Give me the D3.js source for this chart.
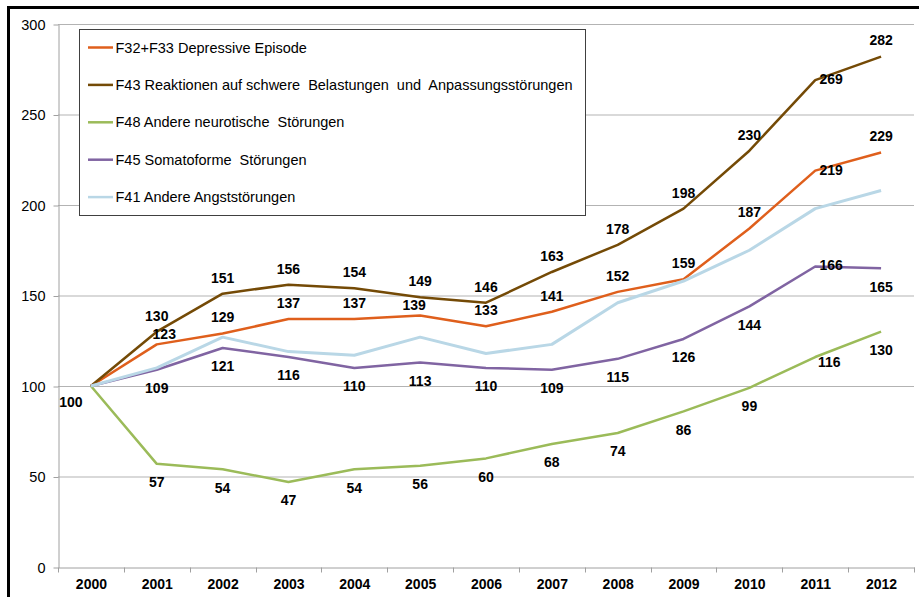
<!DOCTYPE html>
<html>
<head>
<meta charset="utf-8">
<script src="https://cdn.jsdelivr.net/npm/d3@7"></script>
<style>
    body { margin: 0; background: #fff; }
    svg { display: block; font-family: 'Liberation Sans', Arial, sans-serif; }
    .grid line { stroke: #b3b3b3; stroke-width: 1; }
    .axis path, .axis line { stroke: #a0a0a0; }
    .val-label { font-weight: bold; font-size: 14px; fill: #000; }
</style>
</head>
<body>
<div id="chart"></div>
<script>
// years on the x axis
const years = ['2000', '2001', '2002', '2003', '2004', '2005', '2006', '2007', '2008', '2009', '2010', '2011', '2012'];

// index values (2000 = 100)
const depressive = [100, 123, 129, 137, 137, 139, 133, 141, 152, 159, 187, 219, 229];
const reaktionen = [100, 130, 151, 156, 154, 149, 146, 163, 178, 198, 230, 269, 282];
const neurotisch = [100, 57, 54, 47, 54, 56, 60, 68, 74, 86, 99, 116, 130];
const somatoform = [100, 109, 121, 116, 110, 113, 110, 109, 115, 126, 144, 166, 165];
const angst = [100, 110, 127, 119, 117, 127, 118, 123, 146, 158, 175, 198, 208];

const seriesNames = [
    'F32+F33 Depressive Episode',
    'F43 Reaktionen auf schwere  Belastungen  und  Anpassungsstörungen',
    'F48 Andere neurotische  Störungen',
    'F45 Somatoforme  Störungen',
    'F41 Andere Angststörungen'
];
const seriesColors = ['#df5f1c', '#744a06', '#9bbb59', '#8064a2', '#b9d7e6'];

// where each data label sits ('' = no label)
const depressivePos = ['', 'tr', 't', 't', 't', 'tl', 't', 't', 't', 't', 't', 'r', 't'];
const reaktionenPos = ['', 't', 't', 't', 't', 't', 't', 't', 't', 't', 't', 'r', 't'];
const neurotischPos = ['bl', 'b', 'b', 'b', 'b', 'b', 'b', 'b', 'b', 'b', 'b', 'rb', 'b'];
const somatoformPos = ['', 'b', 'b', 'b', 'b', 'b', 'b', 'b', 'b', 'b', 'b', 'r', 'b'];
const angstPos = ['', '', '', '', '', '', '', '', '', '', '', '', ''];

const yTicks = [0, 50, 100, 150, 200, 250, 300];

function LineChart() {
    this.init();
}

LineChart.prototype.init = function() {
    let vis = this;

    vis.svgWidth = 919;
    vis.svgHeight = 597;
    vis.margin = { top: 24, right: 5, bottom: 30, left: 58 };
    vis.width = vis.svgWidth - vis.margin.left - vis.margin.right;
    vis.height = vis.svgHeight - vis.margin.top - vis.margin.bottom;

    vis.svg = d3.select('#chart').append('svg')
        .attr('width', vis.svgWidth)
        .attr('height', vis.svgHeight);

    // outer black frame (runs off the right and bottom edges)
    vis.svg.append('rect')
        .attr('x', 8.5)
        .attr('y', 7.5)
        .attr('width', vis.svgWidth + 20)
        .attr('height', vis.svgHeight + 20)
        .attr('fill', 'none')
        .attr('stroke', '#000')
        .attr('stroke-width', 3);

    vis.g = vis.svg.append('g')
        .attr('transform', `translate(${vis.margin.left},${vis.margin.top})`);

    vis.x = d3.scaleBand()
        .domain(years)
        .range([0, vis.width]);

    vis.y = d3.scaleLinear()
        .domain([0, 300])
        .range([vis.height, 0]);
}

LineChart.prototype.update = function() {
    let vis = this;

    let series = [
        { values: depressive, pos: depressivePos },
        { values: reaktionen, pos: reaktionenPos },
        { values: neurotisch, pos: neurotischPos },
        { values: somatoform, pos: somatoformPos },
        { values: angst, pos: angstPos }
    ].map((s, i) => Object.assign(s, { name: seriesNames[i], color: seriesColors[i] }));

    // gridlines
    vis.g.append('g')
        .attr('class', 'grid')
        .selectAll('line')
        .data(yTicks.filter(d => d > 0))
        .enter()
        .append('line')
        .attr('x1', 0)
        .attr('x2', vis.width)
        .attr('y1', d => vis.y(d) + 0.5)
        .attr('y2', d => vis.y(d) + 0.5);

    // y axis
    let yAxis = vis.g.append('g')
        .attr('class', 'axis')
        .attr('transform', 'translate(0.5,0.5)')
        .call(d3.axisLeft(vis.y).tickValues(yTicks).tickSize(5).tickSizeOuter(0));
    yAxis.selectAll('text')
        .attr('x', -13)
        .style('font-size', '14.5px')
        .style('font-family', "'Liberation Sans', Arial, sans-serif")
        .attr('fill', '#000');

    // x axis, ticks on category boundaries
    let xAxis = vis.g.append('g')
        .attr('class', 'axis')
        .attr('transform', `translate(0.5,${vis.height + 0.5})`)
        .call(d3.axisBottom(vis.x).tickSize(0).tickSizeOuter(0));
    xAxis.selectAll('text')
        .attr('y', 12)
        .attr('dy', '0.71em')
        .style('font-size', '14px')
        .style('font-weight', 'bold')
        .style('font-family', "'Liberation Sans', Arial, sans-serif")
        .attr('fill', '#000');
    xAxis.selectAll('.bound')
        .data(d3.range(years.length + 1))
        .enter()
        .append('line')
        .attr('class', 'bound')
        .attr('x1', i => Math.round(i * vis.x.step()))
        .attr('x2', i => Math.round(i * vis.x.step()))
        .attr('y1', 0)
        .attr('y2', 5)
        .attr('stroke', '#a0a0a0');

    let cx = d => vis.x(d) + vis.x.bandwidth() / 2;

    let line = d3.line()
        .x((d, i) => cx(years[i]))
        .y(d => vis.y(d));

    vis.g.selectAll('.series')
        .data(series)
        .enter()
        .append('path')
        .attr('class', 'series')
        .attr('d', d => line(d.values))
        .attr('fill', 'none')
        .attr('stroke', d => d.color)
        .attr('stroke-width', (d, i) => i == 4 ? 3 : 2.5)
        .attr('stroke-linejoin', 'round');

    // label offsets from the point (text centre)
    let offsets = {
        t: [0, -16],
        b: [0, 18.5],
        r: [16, -1],
        rb: [14, 5],
        tr: [7.5, -10],
        tl: [-6, -10],
        bl: [-20, 16]
    };

    let labels = [];
    series.forEach(s => {
        s.values.forEach((v, i) => {
            if (s.pos[i])
                labels.push({ v: v, year: years[i], off: offsets[s.pos[i]] });
        });
    });

    vis.g.selectAll('.val-label')
        .data(labels)
        .enter()
        .append('text')
        .attr('class', 'val-label')
        .attr('x', d => cx(d.year) + d.off[0])
        .attr('y', d => vis.y(d.v) + d.off[1])
        .attr('dy', '0.35em')
        .attr('text-anchor', 'middle')
        .text(d => d.v);

    // legend
    let legend = vis.svg.append('g')
        .attr('transform', 'translate(79.5,29.5)');

    legend.append('rect')
        .attr('width', 506)
        .attr('height', 186)
        .attr('fill', '#fff')
        .attr('stroke', '#404040')
        .attr('stroke-width', 1);

    let item = legend.selectAll('.leg')
        .data(series)
        .enter()
        .append('g')
        .attr('class', 'leg')
        .attr('transform', (d, i) => `translate(0,${18 + i * 37.4})`);

    item.append('line')
        .attr('x1', 8.5)
        .attr('x2', 33.5)
        .attr('stroke', d => d.color)
        .attr('stroke-width', 2.5);

    item.append('text')
        .attr('x', 36)
        .attr('dy', '0.35em')
        .style('font-size', '14.5px')
        .style('white-space', 'pre')
        .attr('fill', '#000')
        .text(d => d.name);
}

let chart = new LineChart();
chart.update();
</script>
</body>
</html>
